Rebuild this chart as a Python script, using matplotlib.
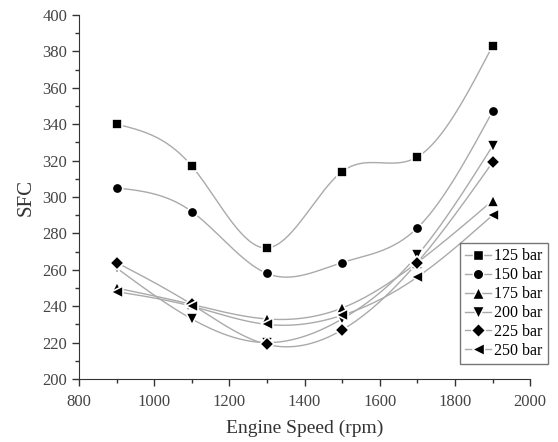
import numpy as np
import matplotlib
matplotlib.use("Agg")
import matplotlib.pyplot as plt
from matplotlib.ticker import MultipleLocator

speed = [900, 1100, 1300, 1500, 1700, 1900]
sfc_125 = [340, 317, 272, 314, 322, 383]
sfc_150 = [305, 292, 258, 264, 283, 347]
sfc_175 = [250, 241, 233, 239, 264, 298]
sfc_200 = [261, 233, 220, 233, 268, 328]
sfc_225 = [264, 241, 219, 227, 264, 319]
sfc_250 = [248, 240, 230, 235, 256, 290]

labels = ["125 bar", "150 bar", "175 bar", "200 bar", "225 bar", "250 bar"]
markers = ["s", "o", "^", "v", "D", "<"]
sizes = [6.5, 7.5, 8.5, 8.5, 7.5, 8.5]


def natural_spline(x, y, n=200):
    # plain natural cubic spline, only used to draw the smooth connecting line
    x = np.asarray(x, float)
    y = np.asarray(y, float)
    k = len(x)
    h = np.diff(x)
    A = np.zeros((k, k))
    b = np.zeros(k)
    A[0, 0] = A[-1, -1] = 1
    for i in range(1, k - 1):
        A[i, i - 1] = h[i - 1]
        A[i, i] = 2 * (h[i - 1] + h[i])
        A[i, i + 1] = h[i]
        b[i] = 6 * ((y[i + 1] - y[i]) / h[i] - (y[i] - y[i - 1]) / h[i - 1])
    M = np.linalg.solve(A, b)
    xs = np.linspace(x[0], x[-1], n)
    idx = np.clip(np.searchsorted(x, xs) - 1, 0, k - 2)
    x0, x1 = x[idx], x[idx + 1]
    hh = x1 - x0
    t0, t1 = x1 - xs, xs - x0
    ys = (M[idx] * t0**3 + M[idx + 1] * t1**3) / (6 * hh) \
        + (y[idx] / hh - M[idx] * hh / 6) * t0 + (y[idx + 1] / hh - M[idx + 1] * hh / 6) * t1
    return xs, ys


plt.rcParams["font.family"] = "Liberation Serif"
fig = plt.figure(figsize=(5.58, 4.42), dpi=100)
ax = fig.add_axes([0.1416, 0.1425, 0.8084, 0.8235])

series = [sfc_125, sfc_150, sfc_175, sfc_200, sfc_225, sfc_250]
line_col = "#aaaaaa"
for vals, lab, m, s in zip(series, labels, markers, sizes):
    xs, ys = natural_spline(speed, vals)
    ax.plot(xs, ys, color=line_col, lw=1.0, zorder=2)
    ax.plot(speed, vals, ls="none", marker=m, ms=s, color="black",
            mec="white", mew=1.2, zorder=3)
    ax.plot([], [], color=line_col, lw=1.0, marker=m, ms=s, mfc="black",
            mec="white", mew=1.0, label=lab)

ax.set_xlim(800, 2000)
ax.set_ylim(200, 400)
ax.xaxis.set_major_locator(MultipleLocator(200))
ax.xaxis.set_minor_locator(MultipleLocator(100))
ax.yaxis.set_major_locator(MultipleLocator(20))
ax.yaxis.set_minor_locator(MultipleLocator(10))
ax.spines["top"].set_visible(False)
ax.spines["right"].set_visible(False)
for sp in ("left", "bottom"):
    ax.spines[sp].set_color("#333333")
ax.tick_params(which="major", direction="out", length=5, width=1, colors="#333333",
               labelsize=12, labelcolor="#444444")
ax.tick_params(which="minor", direction="out", length=3, width=1, colors="#333333")
ax.tick_params(axis="x", pad=6)

ax.set_xlabel("Engine Speed (rpm)", fontsize=14, color="#333333", labelpad=7)
ax.set_ylabel("SFC", fontsize=15, color="#333333", labelpad=5)

leg = ax.legend(loc="upper right", bbox_to_anchor=(1.04, 0.374), borderaxespad=0,
                frameon=True, fancybox=False, edgecolor="#555555", fontsize=11.5,
                handlelength=1.6, handletextpad=0.2, labelspacing=0.18, borderpad=0.35)
leg.get_frame().set_linewidth(1.0)

fig.savefig("out.png", dpi=100)
